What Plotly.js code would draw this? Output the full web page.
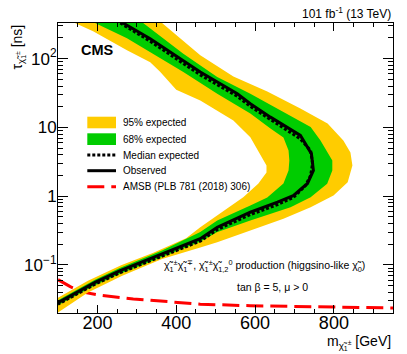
<!DOCTYPE html>
<html><head><meta charset="utf-8">
<script src="https://cdn.plot.ly/plotly-3.0.1.min.js"></script>
<style>html,body{margin:0;padding:0;background:#fff;}#plot{width:407px;height:354px;}</style>
</head><body><div id="plot"></div>
<script>
// ---- data (chargino mass in GeV, lifetime in ns) ----
const yellowOuterMass = [364, 461, 545, 631, 715, 784, 824, 842, 847, 835, 799, 741, 672, 588, 504, 461, 364, 263, 176, 100];
const yellowOuterTau  = [330, 112, 55.2, 33.4, 18.9, 11.4, 6.46, 4.32, 2.79, 1.60, 1.02, 0.69, 0.468, 0.316, 0.213, 0.18, 0.122, 0.0698, 0.0399, 0.0204];
const yellowInnerMass = [143, 189, 275, 334, 359, 400, 461, 545, 588, 608, 629, 629, 608, 570, 504, 461, 425, 342, 260, 176, 100];
const yellowInnerTau  = [330, 250, 133, 88.3, 64.7, 35.2, 24.7, 12.6, 7.2, 4.62, 2.79, 2.21, 1.51, 0.966, 0.522, 0.353, 0.245, 0.151, 0.0993, 0.0591, 0.0334];
const greenOuterMass  = [316, 418, 504, 588, 672, 741, 766, 796, 796, 783, 741, 690, 588, 503, 461, 364, 258, 194, 100];
const greenOuterTau   = [330, 118, 54, 30.9, 16.7, 10.1, 6.46, 3.30, 2.36, 1.51, 0.966, 0.69, 0.442, 0.299, 0.218, 0.132, 0.0747, 0.0508, 0.026];
const greenInnerMass  = [194, 275, 334, 418, 504, 588, 639, 672, 685, 687, 685, 672, 631, 588, 504, 461, 364, 258, 194, 100];
const greenInnerTau   = [330, 198, 125, 63.8, 30.9, 16.0, 9.66, 7.14, 4.62, 3.30, 2.36, 1.53, 0.957, 0.731, 0.442, 0.301, 0.162, 0.0912, 0.0611, 0.0307];
const observedMass    = [265, 334, 461, 555, 588, 639, 715, 743, 748, 733, 697, 657, 588, 504, 461, 364, 258, 194, 100];
const observedTau     = [330, 195, 63.8, 30.9, 22.1, 14.1, 7.64, 4.14, 2.37, 1.53, 1.02, 0.817, 0.584, 0.353, 0.241, 0.146, 0.0826, 0.0558, 0.0282];
const expectedMass    = [258, 334, 461, 555, 588, 639, 715, 741, 746, 741, 728, 697, 657, 588, 504, 461, 364, 258, 194, 100];
const expectedTau     = [330, 179, 58.1, 28.3, 20.2, 12.9, 6.8, 4.62, 2.99, 2.0, 1.43, 0.955, 0.755, 0.54, 0.327, 0.222, 0.134, 0.0773, 0.0525, 0.0269];
const amsbMass        = [100, 131, 164, 207, 291, 372, 461, 588, 715, 950];
const amsbTau         = [0.0611, 0.0483, 0.0402, 0.0363, 0.032, 0.0292, 0.0269, 0.0255, 0.0247, 0.0237];

const xTickVals = [200, 400, 600, 800];
const xTickText = ['200', '400', '600', '800'];
const yTickVals = [0.1, 1, 10, 100];
const yTickText = ['10<sup>\u22121</sup>', '1', '10', '10<sup>2</sup>'];
const legendLabels = ['95% expected', '68% expected', 'Median expected', 'Observed', 'AMSB (PLB 781 (2018) 306)'];

// ---- styles ----
const YELLOW = '#FFCC00', GREEN = '#00CC00', RED = '#FF0000';
const FONT = 'Liberation Sans, Arial, Helvetica, sans-serif';
const W = 407, H = 354, L = 58, R = 14, T = 23, B = 41;
const PW = W - L - R, PH = H - T - B;
const px = x => (x - L) / PW;
const py = y => (H - B - y) / PH;

function band(outM, outT, inM, inT) {
  return { x: outM.concat(inM.slice().reverse()), y: outT.concat(inT.slice().reverse()) };
}
const yb = band(yellowOuterMass, yellowOuterTau, yellowInnerMass, yellowInnerTau);
const gb = band(greenOuterMass, greenOuterTau, greenInnerMass, greenInnerTau);

const traces = [
  { x: amsbMass, y: amsbTau, mode: 'lines', line: { color: RED, width: 3, dash: '17px,7px' }, showlegend: false, hoverinfo: 'skip' },
  { x: yb.x, y: yb.y, mode: 'lines', fill: 'toself', fillcolor: YELLOW, line: { width: 0, color: YELLOW }, showlegend: false, hoverinfo: 'skip' },
  { x: gb.x, y: gb.y, mode: 'lines', fill: 'toself', fillcolor: GREEN, line: { width: 0, color: GREEN }, showlegend: false, hoverinfo: 'skip' },
  { x: observedMass, y: observedTau, mode: 'lines', line: { color: '#000', width: 3 }, showlegend: false, hoverinfo: 'skip' },
  { x: expectedMass, y: expectedTau, mode: 'lines', line: { color: '#000', width: 3, dash: '3px,2px' }, showlegend: false, hoverinfo: 'skip' }
];

// ---- manual legend ----
const legRows = [122.5, 139, 155, 170.7, 186.7];
const sx0 = px(87.3), sx1 = px(116);
const shapes = [
  { type: 'rect', xref: 'paper', yref: 'paper', x0: sx0, x1: sx1, y0: py(128.3), y1: py(116.7), fillcolor: YELLOW, line: { width: 0 } },
  { type: 'rect', xref: 'paper', yref: 'paper', x0: sx0, x1: sx1, y0: py(145), y1: py(133.3), fillcolor: GREEN, line: { width: 0 } },
  { type: 'line', xref: 'paper', yref: 'paper', x0: sx0, x1: sx1, y0: py(legRows[2]), y1: py(legRows[2]), line: { color: '#000', width: 3, dash: '3px,2px' } },
  { type: 'line', xref: 'paper', yref: 'paper', x0: sx0, x1: sx1, y0: py(legRows[3]), y1: py(legRows[3]), line: { color: '#000', width: 3 } },
  { type: 'line', xref: 'paper', yref: 'paper', x0: sx0, x1: sx1, y0: py(legRows[4]), y1: py(legRows[4]), line: { color: RED, width: 3, dash: '17px,7px' } }
];

const ann = (x, y, text, size, extra) => Object.assign({ xref: 'paper', yref: 'paper', x: x, y: y, text: text, showarrow: false,
  font: { family: FONT, size: size, color: '#000' }, xanchor: 'left', yanchor: 'middle' }, extra || {});

const annotations = legendLabels.map((t, i) => ann(px(121), py(legRows[i]), t, 10));
annotations.push(
  ann(px(79), py(50), '<b>CMS</b>', 14.5),
  ann(1, py(13), '101 fb<sup>-1</sup> (13 TeV)', 12, { xanchor: 'right' }),
  ann(px(18), 1, '\u03C4<sub>\u03C7\u0303<sub>1</sub><sup>\u00B1</sup></sub> [ns]', 14, { xanchor: 'center', yanchor: 'top', textangle: -90 }),
  ann(1, py(342), 'm<sub>\u03C7\u0303<sub>1</sub><sup>\u00B1</sup></sub> [GeV]', 14, { xanchor: 'right' }),
  ann(px(162), py(266), '\u03C7\u0303<sub>1</sub><sup>\u00B1</sup>\u03C7\u0303<sub>1</sub><sup>\u2213</sup>, \u03C7\u0303<sub>1</sub><sup>\u00B1</sup>\u03C7\u0303<sub>1,2</sub><sup>0</sup> production (higgsino-like \u03C7\u0303<sub>0</sub>)', 10.5),
  ann(px(272), py(287), 'tan \u03B2 = 5, \u03BC > 0', 10.5, { xanchor: 'center' })
);

const layout = {
  width: W, height: H,
  margin: { l: L, r: R, t: T, b: B, pad: 0 },
  paper_bgcolor: '#fff', plot_bgcolor: '#fff',
  font: { family: FONT, color: '#000' },
  showlegend: false,
  xaxis: {
    range: [100, 950], showgrid: false, zeroline: false,
    showline: true, linecolor: '#000', linewidth: 1, mirror: 'allticks',
    ticks: 'inside', ticklen: 8, tickwidth: 1, tickcolor: '#000',
    tickmode: 'array', tickvals: xTickVals, ticktext: xTickText,
    ticklabelstandoff: -7,
    tickfont: { family: FONT, size: 18, color: '#000' },
    minor: { ticks: 'inside', ticklen: 4, tickwidth: 1, tickcolor: '#000', dtick: 50, tick0: 0, showgrid: false }
  },
  yaxis: {
    type: 'log', range: [Math.log10(0.02), Math.log10(330)], showgrid: false, zeroline: false,
    showline: true, linecolor: '#000', linewidth: 1, mirror: 'allticks',
    ticks: 'inside', ticklen: 10, tickwidth: 1, tickcolor: '#000',
    tickmode: 'array', tickvals: yTickVals, ticktext: yTickText,
    ticklabelstandoff: -3,
    tickfont: { family: FONT, size: 17, color: '#000' },
    minor: { ticks: 'inside', ticklen: 5, tickwidth: 1, tickcolor: '#000', dtick: 'D1', showgrid: false }
  },
  shapes: shapes,
  annotations: annotations
};

Plotly.newPlot('plot', traces, layout, { staticPlot: true, displayModeBar: false });
</script>
</body></html>
